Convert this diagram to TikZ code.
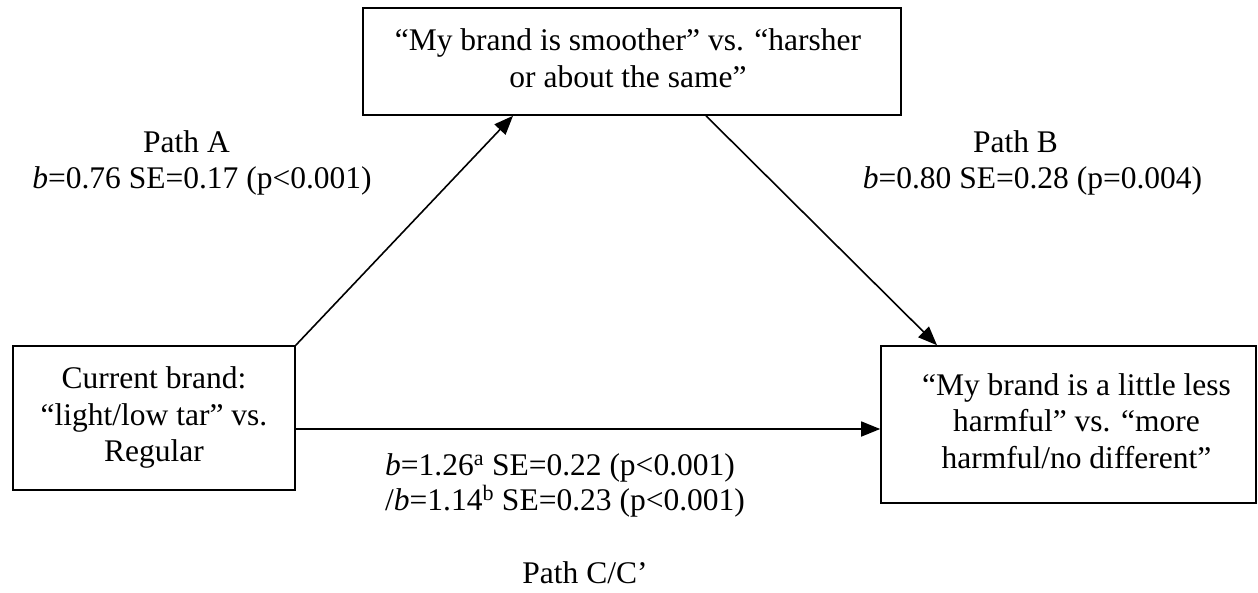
\documentclass[tikz,border=0pt]{standalone}
\usepackage{fontspec}
\setmainfont{Liberation Serif}
\usetikzlibrary{arrows.meta}
\begin{document}
\begin{tikzpicture}[x=1pt,y=-1pt,
  box/.style={draw, line width=1.6pt, inner sep=0pt,
    font=\fontsize{31.5}{36.5}\selectfont},
  lbl/.style={anchor=base, inner sep=0pt, font=\fontsize{31.5}{36.5}\selectfont},
  conn/.style={line width=1.6pt, -{Triangle[length=19pt,width=15pt]}}]
\useasboundingbox (0,0) rectangle (1258,592);
\node[box, minimum width=538pt, minimum height=107pt] (top) at (632,61.5)
  {\raisebox{4.5pt}{\begin{tabular}{@{}c@{\hspace{8pt}}}“My brand is smoother” vs. “harsher\\or about the same”\end{tabular}}};
\node[box, minimum width=282pt, minimum height=144pt] (left) at (154,418)
  {\raisebox{-3pt}{\begin{tabular}{@{}c@{}}Current brand:\\“light/low tar” vs.\\Regular\end{tabular}}};
\node[box, minimum width=375pt, minimum height=157pt] (right) at (1068.5,424.5)
  {\begin{tabular}{@{\hspace{16pt}}c@{}}“My brand is a little less\\harmful” vs. “more\\harmful/no different”\end{tabular}};
\coordinate (hstart) at ([yshift=-11pt]left.east);
\draw[conn] (left.north east) -- ([xshift=-119pt]top.south);
\draw[conn] ([xshift=74pt]top.south) -- ([xshift=-131.5pt]right.north);
\draw[conn] (hstart) -- (hstart -| right.west);
\node[lbl] (pa) at (186.5,152) {Path A};
\node[lbl] (pab) at (202,188) {\textit{b}=0.76 SE=0.17 (p<0.001)};
\node[lbl] (pb) at (1015.5,152) {Path B};
\node[lbl] (pbb) at (1032.5,188) {\textit{b}=0.80 SE=0.28 (p=0.004)};
\node[lbl, anchor=base west] (pc1) at (385,475) {\textit{b}=1.26\textsuperscript{a} SE=0.22 (p<0.001)};
\node[lbl, anchor=base west] (pc2) at (385,510) {/\textit{b}=1.14\textsuperscript{b} SE=0.23 (p<0.001)};
\node[lbl] (pc) at (585,583) {Path C/C’};
\end{tikzpicture}
\end{document}
